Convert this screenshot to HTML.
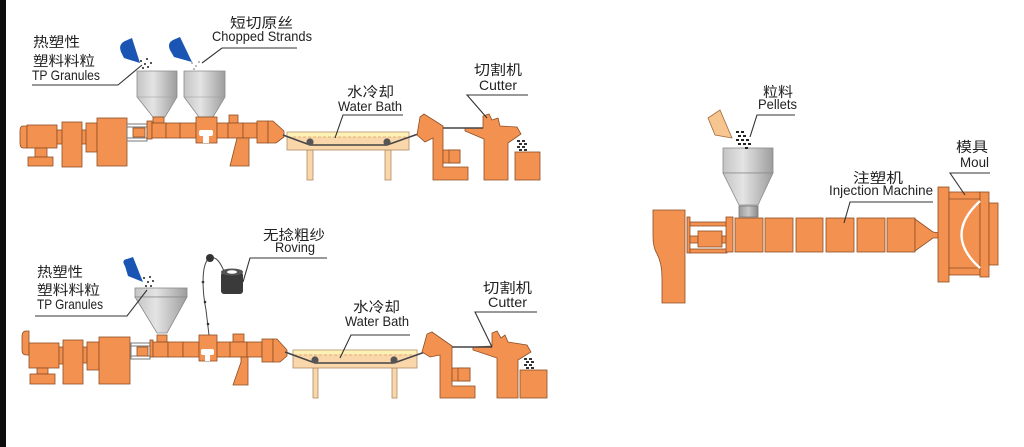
<!DOCTYPE html>
<html><head><meta charset="utf-8"><style>
html,body{margin:0;padding:0;background:#fff;}
svg{display:block;}
text{font-family:"Liberation Sans","Noto Sans CJK SC",sans-serif;fill:#222;}
.cn{font-size:14px;}
.en{font-size:14px;}
.o{fill:#F39150;stroke:#8c4f25;stroke-width:0.8;}
.l{fill:none;stroke:#333;stroke-width:1.1;}
.st{fill:none;stroke:#444;stroke-width:1.5;}
.tank{fill:#f9d7ab;stroke:#b08a66;stroke-width:0.8;}
.hop{fill:url(#g1);stroke:#8a8a8a;stroke-width:0.8;}
</style></head><body>
<svg width="1024" height="447" viewBox="0 0 1024 447" xmlns="http://www.w3.org/2000/svg">
<defs>
<linearGradient id="g1" x1="0" x2="1" y1="0" y2="0">
<stop offset="0" stop-color="#c4c4c4"/><stop offset="0.4" stop-color="#e4e4e4"/><stop offset="1" stop-color="#9d9d9d"/>
</linearGradient>
<linearGradient id="g2" x1="0" x2="1" y1="0" y2="0">
<stop offset="0" stop-color="#9a9a9a"/><stop offset="0.5" stop-color="#c8c8c8"/><stop offset="1" stop-color="#8a8a8a"/>
</linearGradient>
</defs>
<rect x="0" y="0" width="6" height="447" fill="#0d0d0d"/>

<!-- ========== TOP ROW ========== -->
<polygon class="hop" points="137,71 177,71 177,97 165,117 153,117 137,97"/>
<line x1="137" y1="97" x2="177" y2="97" stroke="#999" stroke-width="0.6"/>
<polygon class="hop" points="184,71 225,71 225,97 213,117 199,117 184,97"/>
<line x1="184" y1="97" x2="225" y2="97" stroke="#999" stroke-width="0.6"/>
<path d="M121,52 Q118,44 125,41 L132,38 L140,63 L124,58 Z" fill="#1b55b3"/>
<path d="M170,50 Q167,43 173,40 L180,37 L192,62 L174,57 Z" fill="#1b55b3"/>
<g fill="#555"><rect x="140" y="60" width="2" height="2"/><rect x="144" y="63" width="2" height="2"/><rect x="147" y="66" width="2" height="2"/><rect x="142" y="67" width="2" height="2"/><rect x="150" y="62" width="2" height="2"/><rect x="146" y="58" width="2" height="2"/></g>
<g fill="#bbb"><rect x="191" y="62" width="2" height="2"/><rect x="195" y="65" width="2" height="2"/><rect x="198" y="61" width="2" height="2"/><rect x="193" y="68" width="2" height="2"/></g>

<g class="o">
<path d="M27,126 L23,126 Q20,126 20,131 L20,143 Q20,148 23,148 L27,148 Z"/>
<rect x="27" y="125" width="30" height="23"/>
<rect x="35" y="148" width="12" height="9"/>
<rect x="28" y="157" width="25" height="9"/>
<rect x="57" y="130" width="5" height="14"/>
<rect x="62" y="122" width="20" height="45"/>
<rect x="82" y="130" width="4" height="14"/>
<rect x="86" y="123" width="11" height="29"/>
<rect x="97" y="118" width="30" height="48"/>
</g>
<rect x="127" y="124" width="20" height="17" fill="#fff" stroke="#777" stroke-width="1"/>
<line x1="127" y1="127" x2="147" y2="127" stroke="#777" stroke-width="1"/>
<line x1="127" y1="138" x2="147" y2="138" stroke="#777" stroke-width="1"/>
<g class="o">
<rect x="133" y="128" width="12" height="9"/>
<rect x="147" y="121" width="5" height="18"/>
<rect x="153" y="117" width="11" height="6"/>
<rect x="152" y="123" width="14" height="15"/>
<rect x="166" y="123" width="14" height="15"/>
<rect x="180" y="123" width="16" height="15"/>
<rect x="196" y="117" width="21" height="26"/>
<rect x="217" y="123" width="11" height="15"/>
<rect x="229" y="115" width="9" height="8"/>
<rect x="228" y="123" width="15" height="15"/>
<rect x="243" y="123" width="14" height="15"/>
<rect x="257" y="121" width="11" height="22"/>
<polygon points="268,121 273,121 284,131 284,137 276,143 268,143"/>
<polygon points="237,138 249,138 249,166 230,166"/>
</g>
<rect x="199" y="130" width="14" height="6" rx="2" fill="#fff"/>
<rect x="203" y="136" width="6" height="7" fill="#fff"/>

<rect class="tank" x="307" y="150" width="6" height="30"/>
<rect class="tank" x="385" y="150" width="6" height="30"/>
<rect class="tank" x="287" y="132" width="122" height="18"/>
<rect x="287.4" y="132.4" width="121.2" height="4.5" fill="#fdf1b5"/>
<line x1="288" y1="137" x2="408" y2="137" stroke="#d9a060" stroke-width="0.8" stroke-dasharray="3,2"/>
<path class="st" d="M283,135 L310,145 L387,145 L418,134"/>
<circle cx="310" cy="142" r="3.6" fill="#555"/>
<circle cx="387" cy="142" r="3.6" fill="#555"/>

<g class="o">
<polygon points="417,135 420,117 424,114 443,126 443,167 468,167 468,180 433,180 433,138 425,142"/>
<rect x="443" y="150" width="17" height="13"/>
<rect x="449" y="150" width="11" height="13"/>
<polygon points="465,128 483,128 483,116 489,114 492,120 498,118 500,126 517,127 521,134 508,143 508,180 484,180 484,139 465,131"/>
<rect x="515" y="152" width="25" height="28"/>
</g>
<line x1="443" y1="128" x2="483" y2="128" stroke="#444" stroke-width="1.5"/>
<g fill="#333"><rect x="517" y="140" width="3" height="2"/><rect x="522" y="140" width="3" height="2"/><rect x="519" y="143" width="3" height="2"/><rect x="524" y="143" width="3" height="2"/><rect x="517" y="146" width="3" height="2"/><rect x="522" y="146" width="3" height="2"/><rect x="519" y="149" width="3" height="2"/><rect x="524" y="149" width="3" height="2"/></g>

<text class="cn" x="33" y="47" textLength="47" lengthAdjust="spacingAndGlyphs">热塑性</text>
<text class="cn" x="33" y="66" textLength="62" lengthAdjust="spacingAndGlyphs">塑料料粒</text>
<text class="en" x="32" y="80" textLength="68" lengthAdjust="spacingAndGlyphs">TP Granules</text>
<path class="l" d="M32,85 L118,85 L142,65"/>
<text class="cn" x="230" y="28" textLength="63" lengthAdjust="spacingAndGlyphs">短切原丝</text>
<text class="en" x="212" y="41" textLength="100" lengthAdjust="spacingAndGlyphs">Chopped Strands</text>
<path class="l" d="M297,48 L222,48 L202,63"/>
<text class="cn" x="347" y="97" textLength="47" lengthAdjust="spacingAndGlyphs">水冷却</text>
<text class="en" x="338" y="111" textLength="64" lengthAdjust="spacingAndGlyphs">Water Bath</text>
<path class="l" d="M403,115 L343,115 L335,138"/>
<text class="cn" x="474" y="75" textLength="48" lengthAdjust="spacingAndGlyphs">切割机</text>
<text class="en" x="479" y="90" textLength="38" lengthAdjust="spacingAndGlyphs">Cutter</text>
<path class="l" d="M528,95 L467,95 L487,118"/>

<!-- ========== BOTTOM ROW ========== -->
<rect class="hop" x="135" y="288" width="52" height="9"/>
<polygon class="hop" points="135,297 187,297 167,333 157,333"/>
<path d="M125,266 Q121,260 127,259 L133,257 L143,282 L128,276 Z" fill="#1b55b3"/>
<g fill="#555"><rect x="143" y="277" width="2" height="2"/><rect x="147" y="281" width="2" height="2"/><rect x="150" y="285" width="2" height="2"/><rect x="145" y="285" width="2" height="2"/><rect x="152" y="280" width="2" height="2"/><rect x="149" y="276" width="2" height="2"/></g>

<g class="o">
<path d="M29,331 L26,331 Q22,331 22,337 L22,350 Q22,355 26,355 L29,355 Z"/>
<rect x="29" y="343" width="30" height="25"/>
<rect x="37" y="368" width="11" height="6"/>
<rect x="30" y="374" width="25" height="10"/>
<rect x="59" y="347" width="4" height="17"/>
<rect x="63" y="340" width="20" height="44"/>
<rect x="83" y="347" width="4" height="16"/>
<rect x="87" y="342" width="12" height="28"/>
<rect x="99" y="337" width="31" height="47"/>
</g>
<rect x="131" y="343" width="19" height="16" fill="#fff" stroke="#777" stroke-width="1"/>
<line x1="131" y1="346" x2="150" y2="346" stroke="#777" stroke-width="1"/>
<line x1="131" y1="356" x2="150" y2="356" stroke="#777" stroke-width="1"/>
<g class="o">
<rect x="137" y="347" width="11" height="9"/>
<rect x="150" y="340" width="3" height="17"/>
<rect x="157" y="335" width="10" height="7"/>
<rect x="153" y="342" width="15" height="15"/>
<rect x="168" y="342" width="15" height="15"/>
<rect x="183" y="342" width="16" height="15"/>
<rect x="199" y="335" width="18" height="26"/>
<rect x="217" y="342" width="13" height="15"/>
<rect x="233" y="334" width="11" height="8"/>
<rect x="230" y="342" width="17" height="15"/>
<rect x="247" y="342" width="15" height="15"/>
<rect x="262" y="339" width="11" height="23"/>
<polygon points="273,339 277,339 287,350 287,356 280,362 273,362"/>
<polygon points="241,357 248,357 248,385 233,385 241,362"/>
</g>
<rect x="201" y="349" width="13" height="6" rx="2" fill="#fff"/>
<rect x="205" y="355" width="5" height="6" fill="#fff"/>

<path d="M210,258 C201,262 202,290 206,310 L209,335" fill="none" stroke="#444" stroke-width="1"/>
<path d="M210,258 C216,256 220,262 224,271" fill="none" stroke="#444" stroke-width="1"/>
<circle cx="210" cy="258" r="4" fill="#333"/>
<g fill="#333"><circle cx="203" cy="282" r="1.3"/><circle cx="205" cy="302" r="1.3"/><circle cx="208" cy="324" r="1.3"/></g>
<rect x="221" y="272" width="22" height="22" rx="3" fill="#3a3a3a"/>
<ellipse cx="232" cy="272" rx="11" ry="3.5" fill="#555"/>
<ellipse cx="232" cy="272" rx="5" ry="1.8" fill="#fff"/>

<rect class="tank" x="313" y="368" width="5" height="30"/>
<rect class="tank" x="392" y="368" width="5" height="30"/>
<rect class="tank" x="293" y="350" width="124" height="18"/>
<rect x="293.4" y="350.4" width="123.2" height="4" fill="#fdf1b5"/>
<line x1="294" y1="355" x2="416" y2="355" stroke="#d9a060" stroke-width="0.8" stroke-dasharray="3,2"/>
<path class="st" d="M285,352 L315,363 L394,363 L425,352"/>
<circle cx="315" cy="360" r="3.6" fill="#555"/>
<circle cx="394" cy="360" r="3.6" fill="#555"/>

<g class="o">
<polygon points="422,352 427,334 432,332 452,346 452,386 475,386 475,398 440,398 440,355 430,357"/>
<rect x="452" y="368" width="18" height="13"/>
<rect x="458" y="368" width="12" height="13"/>
<polygon points="473,347 492,346 492,333 497,331 501,338 505,335 508,342 527,345 531,352 518,360 518,398 497,398 497,358 473,350"/>
<rect x="520" y="370" width="27" height="28"/>
</g>
<line x1="452" y1="347" x2="492" y2="347" stroke="#444" stroke-width="1.5"/>
<g fill="#333"><rect x="524" y="358" width="3" height="2"/><rect x="529" y="358" width="3" height="2"/><rect x="526" y="361" width="3" height="2"/><rect x="531" y="361" width="3" height="2"/><rect x="524" y="364" width="3" height="2"/><rect x="529" y="364" width="3" height="2"/><rect x="526" y="367" width="3" height="2"/><rect x="531" y="367" width="3" height="2"/></g>

<text class="cn" x="37" y="277" textLength="46" lengthAdjust="spacingAndGlyphs">热塑性</text>
<text class="cn" x="37" y="295" textLength="63" lengthAdjust="spacingAndGlyphs">塑料料粒</text>
<text class="en" x="37" y="309" textLength="66" lengthAdjust="spacingAndGlyphs">TP Granules</text>
<path class="l" d="M35,316 L127,316 L147,290"/>
<text class="cn" x="263" y="240" textLength="62" lengthAdjust="spacingAndGlyphs">无捻粗纱</text>
<text class="en" x="275" y="252" textLength="40" lengthAdjust="spacingAndGlyphs">Roving</text>
<path class="l" d="M327,258 L250,258 L243,282"/>
<text class="cn" x="353" y="312" textLength="47" lengthAdjust="spacingAndGlyphs">水冷却</text>
<text class="en" x="345" y="326" textLength="64" lengthAdjust="spacingAndGlyphs">Water Bath</text>
<path class="l" d="M410,335 L351,335 L340,358"/>
<text class="cn" x="483" y="293" textLength="49" lengthAdjust="spacingAndGlyphs">切割机</text>
<text class="en" x="488" y="307" textLength="39" lengthAdjust="spacingAndGlyphs">Cutter</text>
<path class="l" d="M537,312 L475,312 L492,347"/>

<!-- ========== RIGHT: INJECTION ========== -->
<rect class="hop" x="723" y="148" width="50" height="25"/>
<polygon class="hop" points="723,173 773,173 758,205 739,205"/>
<rect x="739" y="206" width="19" height="11" fill="url(#g2)" stroke="#777" stroke-width="0.8"/>
<path d="M708,118 L720,110 L732,138 L715,135 Z" fill="#f7c58f" stroke="#a56b3c" stroke-width="0.8"/>
<g fill="#222"><rect x="736" y="131" width="3" height="2"/><rect x="741" y="131" width="3" height="2"/><rect x="738" y="135" width="3" height="2"/><rect x="743" y="135" width="3" height="2"/><rect x="736" y="139" width="3" height="2"/><rect x="741" y="139" width="3" height="2"/><rect x="746" y="139" width="3" height="2"/><rect x="738" y="143" width="3" height="2"/><rect x="743" y="143" width="3" height="2"/><rect x="748" y="143" width="3" height="2"/><rect x="745" y="147" width="3" height="2"/></g>

<g class="o">
<path d="M653,210 L685,210 L685,303 L662,303 L662,278 Q662,262 656,252 Q653,246 653,236 Z"/>
<rect x="687" y="217" width="3" height="36"/>
<rect x="690" y="222" width="37" height="4"/>
<rect x="690" y="249" width="37" height="4"/>
<rect x="690" y="236" width="8" height="7"/>
<rect x="698" y="231" width="24" height="16"/>
<rect x="722" y="236" width="5" height="7"/>
<rect x="726" y="217" width="7" height="35"/>
<rect x="735" y="218" width="28" height="34"/>
<rect x="765" y="218" width="28" height="34"/>
<rect x="796" y="218" width="27" height="34"/>
<rect x="826" y="218" width="28" height="34"/>
<rect x="857" y="218" width="28" height="34"/>
<rect x="887" y="218" width="28" height="34"/>
<polygon points="915,219 933,232 940,233 940,238 933,238 915,251"/>
<rect x="938" y="187" width="11" height="95"/>
<rect x="949" y="192" width="31" height="83"/>
<rect x="980" y="192" width="9" height="85"/>
<rect x="989" y="203" width="9" height="62"/>
</g>
<line x1="949" y1="199" x2="980" y2="199" stroke="#8c4f25" stroke-width="0.8"/>
<line x1="949" y1="268" x2="980" y2="268" stroke="#8c4f25" stroke-width="0.8"/>
<path d="M980,201 Q943,235 980,268" fill="none" stroke="#fff" stroke-width="2.4"/>

<text class="cn" x="763" y="97" textLength="30" lengthAdjust="spacingAndGlyphs">粒料</text>
<text class="en" x="758" y="109" textLength="39" lengthAdjust="spacingAndGlyphs">Pellets</text>
<path class="l" d="M795,115 L757,115 L750,137"/>
<text class="cn" x="853" y="183" textLength="50" lengthAdjust="spacingAndGlyphs">注塑机</text>
<text class="en" x="829" y="195" textLength="104" lengthAdjust="spacingAndGlyphs">Injection Machine</text>
<path class="l" d="M933,202 L850,202 L844,223"/>
<text class="cn" x="956" y="152" textLength="32" lengthAdjust="spacingAndGlyphs">模具</text>
<text class="en" x="960" y="167" textLength="29" lengthAdjust="spacingAndGlyphs">Moul</text>
<path class="l" d="M990,173 L950,173 L965,195"/>
</svg>
</body></html>
